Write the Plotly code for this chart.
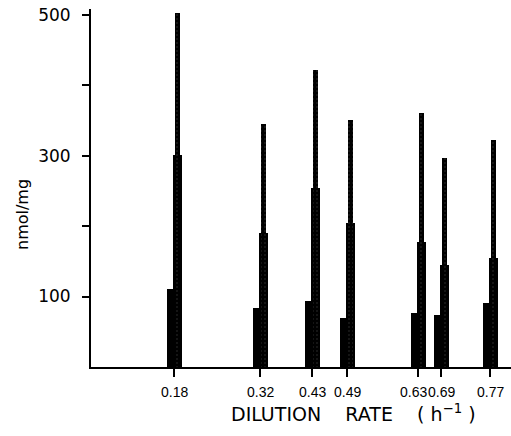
import plotly.graph_objects as go

# Data
dilution_labels = ["0.18", "0.32", "0.43", "0.49", "0.63", "0.69", "0.77"]
# position of each dilution rate along the drawn (non-linear) x axis
axis_pos = [83, 169, 221, 256, 327, 350, 399]
low_values = [110, 84, 94, 69, 77, 74, 91]
mid_values = [301, 190, 254, 205, 178, 145, 155]
high_values = [502, 345, 421, 351, 361, 297, 322]

y_tick_vals = [100, 300, 500]
y_tick_text = ["100", "300", "500"]
y_minor_vals = [200, 400]

# small horizontal nudges of the x labels, as printed in the original
label_shift = [0, 0, 0, 0, -5, 0, 0]

W, H = 511, 436
ML, MR, MT, MB = 91, 0, 9, 69
plot_w = W - ML - MR
plot_h = H - MT - MB

fig = go.Figure()

fig.add_trace(go.Bar(x=axis_pos, y=low_values, offset=-7, width=6.5,
                     marker=dict(color="black", line=dict(width=0)),
                     showlegend=False))
fig.add_trace(go.Bar(x=axis_pos, y=mid_values, offset=-1, width=8.5,
                     marker=dict(color="black", line=dict(width=0)),
                     showlegend=False))
fig.add_trace(go.Bar(x=axis_pos, y=high_values, offset=0.5, width=5,
                     marker=dict(color="black", line=dict(width=0),
                                 pattern=dict(shape=".", bgcolor="black",
                                              fgcolor="#777777", size=4,
                                              solidity=0.08)),
                     showlegend=False))

annotations = []
for pos, lab, sh in zip(axis_pos, dilution_labels, label_shift):
    annotations.append(dict(text=lab, x=pos, xref="x",
                            y=(H - MB - 392) / plot_h, yref="paper",
                            xanchor="center", yanchor="middle", xshift=sh,
                            showarrow=False,
                            font=dict(size=14, family="Liberation Sans")))
annotations.append(dict(text="DILUTION    RATE    ( h<sup>−1</sup> )",
                        x=(353 - ML) / plot_w, xref="paper",
                        y=(H - MB - 413) / plot_h, yref="paper",
                        yanchor="middle", xanchor="center",
                        showarrow=False,
                        font=dict(size=19, family="DejaVu Sans")))
annotations.append(dict(text="nmol/mg", textangle=-90,
                        x=(22 - ML) / plot_w, xref="paper",
                        y=(H - MB - 215) / plot_h, yref="paper",
                        xanchor="center", yanchor="middle",
                        showarrow=False,
                        font=dict(size=16, family="DejaVu Sans")))

fig.update_layout(
    width=W, height=H,
    margin=dict(l=ML, r=MR, t=MT, b=MB),
    paper_bgcolor="white", plot_bgcolor="white",
    barmode="overlay", bargap=0,
    font=dict(family="DejaVu Sans", color="black"),
    xaxis=dict(range=[0, plot_w], showgrid=False, zeroline=False,
               showline=True, linecolor="black", linewidth=2,
               ticks="outside", ticklen=8, tickwidth=1.5, tickcolor="black",
               tickvals=axis_pos, showticklabels=False),
    yaxis=dict(range=[0, 508], showgrid=False, zeroline=False,
               showline=True, linecolor="black", linewidth=2,
               ticks="outside", ticklen=7, tickwidth=1.5, tickcolor="black",
               tickvals=y_tick_vals, ticktext=y_tick_text,
               ticklabelstandoff=8,
               minor=dict(tickvals=y_minor_vals, ticks="outside", ticklen=7,
                          tickwidth=1.5, tickcolor="black", showgrid=False),
               tickfont=dict(size=17, family="DejaVu Sans")),
    annotations=annotations,
)

fig.write_html("out.html")
